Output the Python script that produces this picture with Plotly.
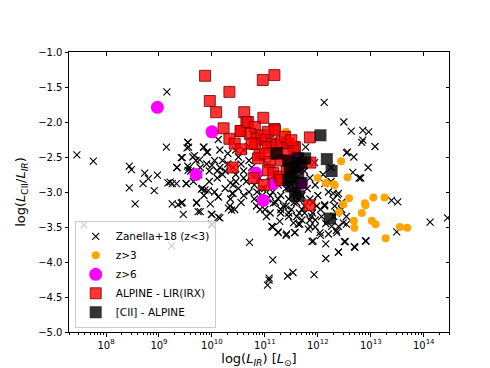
import plotly.graph_objects as go

# log10(L_IR) and log10(L_CII/L_IR)
zanella_logx = [
    7.45, 7.76, 7.58, 9.15, 9.14, 8.44, 8.48, 8.73, 8.97, 8.80, 8.70, 8.44, 8.91, 8.55, 9.17,
    9.25, 9.21, 9.25, 9.34, 9.54, 9.56, 9.44, 9.67, 9.54, 9.55, 9.78, 9.92, 9.84, 10.12, 9.51,
    9.80, 9.87, 9.93, 9.44, 9.46, 9.71, 9.78, 9.97, 10.00, 10.00, 10.15, 10.12, 10.34, 10.43, 10.38,
    10.35, 9.24, 10.71, 11.15, 11.08, 11.05, 11.08, 11.43, 11.53, 11.93, 11.15, 11.25, 11.40, 11.56, 11.63,
    11.82, 11.89, 12.05, 12.15, 12.15, 12.39, 12.50, 12.69, 12.90, 13.49, 14.12, 14.45, 13.39, 13.51, 12.12,
    12.49, 12.63, 12.85, 12.96, 12.85, 12.83, 13.08, 12.54, 12.68, 12.95, 12.66, 12.81, 12.39, 11.77, 11.94,
    12.13, 12.29, 11.98, 12.13, 12.56, 12.78, 12.37, 12.32, 12.45, 12.54, 12.48, 12.39, 12.54, 12.36, 12.52,
    12.70, 12.91, 12.39, 11.13, 11.25, 11.41, 11.57, 11.66, 11.85, 11.91, 12.04, 12.07, 12.13, 12.29, 12.35,
    12.26, 11.88, 11.54, 11.28, 11.03, 10.91, 10.84, 11.16, 9.55, 9.53, 9.85, 9.90, 9.42, 9.64, 9.34,
    9.57, 9.77, 9.33, 9.52, 9.82, 9.36, 9.42, 9.71, 9.74, 9.99, 10.12, 9.99, 10.12, 10.31, 10.37,
    10.40, 10.20, 10.30, 10.25, 10.40, 10.45, 10.50, 10.55, 10.60, 10.65, 10.70, 10.75, 10.80, 10.85, 10.90,
    10.95, 11.00, 11.05, 11.10, 11.15, 11.20, 11.25, 11.30, 11.35, 11.40, 11.45, 11.50, 11.55, 11.60, 11.65,
    11.70, 11.75, 11.80, 11.85, 11.90, 11.95, 12.00, 12.05, 12.10, 12.20, 12.25, 10.30, 10.15, 10.10, 10.05,
    9.95, 10.00, 10.10, 10.20, 9.90, 10.15, 10.60, 10.70, 10.50, 10.60, 10.40, 10.90, 11.00, 11.30, 11.45,
    11.20, 11.60, 11.75, 11.85, 11.50, 11.35, 11.95, 12.15, 12.30, 11.70, 11.10, 10.80, 10.25, 10.35, 10.55,
    9.70, 9.60, 9.75, 9.95, 10.05, 9.65, 9.85, 10.45, 10.85, 11.05, 12.35, 12.20, 11.95, 12.45, 12.25,
    11.25, 11.40, 11.55, 11.70, 11.85, 11.30, 11.45, 11.60, 11.75, 11.90, 10.95, 11.10, 10.70, 10.45, 10.60,
]
zanella_y = [
    -2.47, -2.56, -3.47, -1.57, -2.36, -2.63, -2.68, -2.73, -2.76, -2.81, -2.88, -2.94, -2.98, -3.17, -2.87,
    -2.88, -2.86, -3.17, -2.65, -2.29, -2.36, -2.51, -2.48, -2.63, -2.69, -2.65, -2.43, -2.36, -2.25, -2.88,
    -2.96, -2.97, -2.98, -3.15, -3.32, -3.15, -3.28, -3.17, -3.32, -3.47, -3.37, -3.07, -3.20, -3.25, -3.02,
    -2.87, -3.77, -3.72, -3.97, -4.23, -4.33, -4.26, -4.20, -4.15, -4.18, -3.50, -3.57, -3.62, -3.58, -3.46,
    -3.53, -3.71, -3.62, -3.74, -3.95, -3.86, -3.71, -3.78, -3.70, -3.57, -3.43, -3.37, -3.12, -3.14, -1.72,
    -2.00, -2.13, -2.12, -2.14, -2.26, -2.29, -2.35, -2.44, -2.50, -2.65, -2.72, -2.80, -3.02, -2.36, -2.58,
    -2.88, -3.02, -3.20, -3.18, -2.43, -2.80, -3.04, -3.20, -3.25, -3.35, -3.44, -3.49, -3.46, -3.58, -3.71,
    -3.79, -3.70, -3.86, -3.49, -3.58, -3.60, -3.58, -3.46, -3.49, -3.70, -3.58, -3.35, -3.20, -3.11, -3.30,
    -3.49, -3.35, -3.44, -3.42, -3.35, -3.25, -3.20, -3.16, -2.29, -2.37, -2.36, -2.43, -2.51, -2.50, -2.65,
    -2.65, -2.54, -2.88, -2.88, -2.95, -3.18, -3.16, -3.16, -3.28, -3.32, -3.36, -3.46, -3.07, -3.23, -3.26,
    -3.02, -2.55, -2.60, -2.70, -2.65, -2.75, -2.50, -2.60, -2.70, -2.85, -2.55, -2.65, -2.90, -3.00, -2.80,
    -3.05, -2.95, -3.10, -2.85, -3.00, -3.15, -2.90, -3.05, -3.20, -2.95, -3.10, -3.25, -3.00, -3.15, -3.30,
    -3.05, -3.20, -2.95, -3.10, -3.30, -2.90, -3.05, -3.25, -2.75, -3.00, -2.85, -2.45, -2.65, -2.80, -2.55,
    -2.70, -2.62, -2.70, -2.75, -2.60, -2.40, -2.40, -2.35, -2.95, -3.05, -2.90, -3.15, -3.25, -3.30, -3.35,
    -2.75, -2.80, -2.70, -2.80, -2.90, -2.85, -3.40, -3.45, -3.35, -3.40, -3.30, -3.10, -2.95, -3.10, -3.15,
    -2.55, -2.70, -2.75, -2.85, -3.00, -2.85, -3.05, -2.40, -2.50, -2.60, -3.55, -3.60, -3.50, -3.15, -2.65,
    -3.10, -3.20, -3.15, -3.25, -3.40, -3.25, -3.30, -3.35, -3.30, -3.15, -2.95, -3.05, -3.00, -2.85, -2.80,
]

z3_logx = [11.40, 12.00, 12.15, 12.30, 12.44, 12.56, 12.32, 12.59, 12.48, 12.40, 12.89, 12.90,
           13.05, 13.26, 12.83, 12.68, 12.69, 13.02, 13.09, 13.28, 13.55, 13.69]
z3_y = [-2.14, -2.80, -2.87, -2.89, -2.56, -2.79, -2.90, -3.09, -3.18, -3.29, -3.16, -3.19,
        -3.08, -3.08, -3.30, -3.41, -3.51, -3.41, -3.46, -3.66, -3.50, -3.51]

z6_logx = [8.97, 10.00, 9.70, 10.83, 10.97, 11.16, 11.69, 11.63, 11.57]
z6_y = [-1.79, -2.14, -2.75, -2.73, -3.12, -2.88, -2.88, -2.64, -2.47]

alpine_logx = [
    9.87, 10.96, 11.18, 10.33, 9.96, 10.08, 10.22, 10.61, 10.97, 10.55, 10.65, 11.18,
    10.33, 10.43, 10.55, 10.54, 10.39, 10.79, 10.98, 11.85, 11.84, 11.86, 11.57,
    10.68, 10.81, 10.72, 10.84, 10.94, 11.06, 11.19, 11.00, 11.13, 11.06, 11.22, 11.31,
    11.44, 11.54, 11.38, 11.50, 10.81, 10.75, 10.90, 10.87, 11.00, 11.09, 11.22, 11.31,
    11.44, 11.50, 11.06, 11.16, 11.28, 11.41, 11.31,
]
alpine_y = [
    -1.34, -1.40, -1.33, -1.57, -1.70, -1.86, -2.09, -1.86, -1.94, -2.13, -2.00, -2.10,
    -2.24, -2.31, -2.39, -2.13, -2.65, -2.80, -2.90, -2.22, -3.19, -2.58, -2.36,
    -2.00, -2.07, -2.17, -2.24, -2.19, -2.14, -2.12, -2.26, -2.31, -2.36, -2.33, -2.29,
    -2.31, -2.36, -2.21, -2.26, -2.31, -2.31, -2.47, -2.52, -2.45, -2.57, -2.45, -2.55,
    -2.45, -2.59, -2.69, -2.73, -2.78, -2.71, -2.83,
]

cii_logx = [12.05, 12.17, 12.26, 12.23, 11.22, 11.44, 11.63, 11.76, 11.47, 11.57, 11.69,
            11.50, 11.63, 11.44, 11.69, 11.57, 11.63, 11.50]
cii_y = [-2.19, -2.53, -2.70, -3.38, -2.45, -2.55, -2.52, -2.52, -2.66, -2.64, -2.59,
         -2.78, -2.73, -2.83, -2.87, -3.02, -3.06, -2.92]

xticks = [8, 9, 10, 11, 12, 13, 14]
yticks = [-1.0, -1.5, -2.0, -2.5, -3.0, -3.5, -4.0, -4.5, -5.0]

FONT = "DejaVu Sans"


def lin(logs):
    return [10 ** v for v in logs]


fig = go.Figure()

fig.add_trace(go.Scatter(
    x=lin(zanella_logx), y=zanella_y, mode="markers", name="Zanella+18 (z<3)",
    marker=dict(symbol="x-thin-open", size=7, color="black", line=dict(width=1.1, color="black")),
))
fig.add_trace(go.Scatter(
    x=lin(z3_logx), y=z3_y, mode="markers", name="z>3",
    marker=dict(symbol="circle", size=8, color="orange", line=dict(width=0)),
))
fig.add_trace(go.Scatter(
    x=lin(z6_logx), y=z6_y, mode="markers", name="z>6",
    marker=dict(symbol="circle", size=13, color="magenta", line=dict(width=0)),
))
fig.add_trace(go.Scatter(
    x=lin(alpine_logx), y=alpine_y, mode="markers", name="ALPINE - LIR(IRX)",
    marker=dict(symbol="square", size=11, color="rgba(255,0,0,0.8)",
                line=dict(width=1, color="rgba(110,0,0,0.8)")),
))
fig.add_trace(go.Scatter(
    x=lin(cii_logx), y=cii_y, mode="markers", name="[CII] - ALPINE",
    marker=dict(symbol="square", size=12, color="rgba(0,0,0,0.8)", line=dict(width=0)),
))
# helper trace so the mirrored top/right axes with inward ticks get drawn
fig.add_trace(go.Scatter(x=[1e10], y=[-3], xaxis="x2", yaxis="y2", mode="markers",
                         marker=dict(opacity=0), showlegend=False, hoverinfo="skip"))

xr = [7.301, 14.477]
minor_vals = [m * 10 ** d for d in range(7, 15) for m in range(2, 10)]

fig.update_layout(
    width=490, height=368,
    margin=dict(l=61, r=49, t=44, b=41),
    paper_bgcolor="white", plot_bgcolor="white",
    font=dict(family=FONT, size=10, color="black"),
    showlegend=True,
    legend=dict(
        x=0.015, y=0.015, xanchor="left", yanchor="bottom",
        bgcolor="rgba(255,255,255,0.8)", bordercolor="#cccccc", borderwidth=1,
        font=dict(family=FONT, size=10.5), tracegroupgap=0, itemsizing="trace",
    ),
    xaxis=dict(
        type="log", range=xr, showgrid=False, zeroline=False,
        showline=True, linecolor="black", linewidth=1, mirror=True,
        ticks="outside", ticklen=3.5, tickcolor="black",
        tickmode="array", tickvals=[10 ** v for v in xticks],
        ticktext=[f"10<sup>{v}</sup>" for v in xticks],
        minor=dict(ticks="outside", ticklen=2, tickcolor="black", tickmode="array",
                   tickvals=minor_vals, showgrid=False),
        title=dict(text="log(<i>L</i><sub><i>IR</i></sub>) [<i>L</i><sub>⊙</sub>]",
                   font=dict(size=13), standoff=4),
    ),
    yaxis=dict(
        range=[-5.0, -1.0], showgrid=False, zeroline=False,
        showline=True, linecolor="black", linewidth=1, mirror=True,
        ticks="outside", ticklen=3.5, tickcolor="black",
        tickmode="array", tickvals=yticks, tickformat=".1f",
        title=dict(text="log(<i>L</i><sub>CII</sub>/<i>L</i><sub><i>IR</i></sub>)",
                   font=dict(size=13), standoff=9),
    ),
    xaxis2=dict(
        type="log", range=xr, overlaying="x", side="top", showgrid=False, zeroline=False,
        ticks="inside", ticklen=3.5, tickcolor="black", showticklabels=False,
        tickmode="array", tickvals=[10 ** v for v in xticks],
    ),
    yaxis2=dict(
        range=[-5.0, -1.0], overlaying="y", side="right", showgrid=False, zeroline=False,
        ticks="inside", ticklen=3.5, tickcolor="black", showticklabels=False,
        tickmode="array", tickvals=yticks,
    ),
)

fig.write_html("out.html")
